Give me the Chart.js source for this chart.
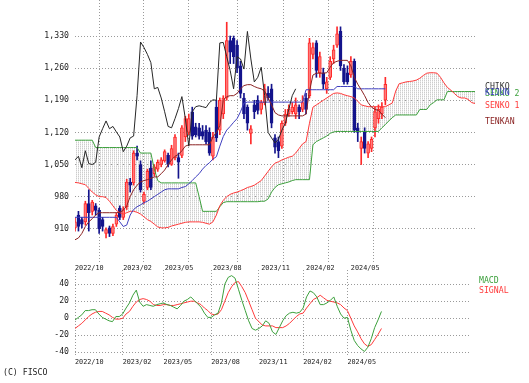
<!DOCTYPE html>
<html><head><meta charset="utf-8">
<script src="https://cdn.jsdelivr.net/npm/chart.js@4.4.1/dist/chart.umd.min.js"></script>
<style>
html,body{margin:0;padding:0;background:#fff;}
body{width:529px;height:383px;overflow:hidden;position:relative;font-family:"DejaVu Sans Mono",monospace;}
#main{position:absolute;left:0;top:0;}
#macd{position:absolute;left:0;top:270px;}
.lg{position:absolute;font-size:8.2px;line-height:1;white-space:nowrap;}
</style></head><body>
<canvas id="main" width="529" height="276"></canvas>
<canvas id="macd" width="529" height="100"></canvas>
<div class="lg" style="left:485px;top:82px;color:#333">CHIKO</div>
<div class="lg" style="left:485px;top:89px;color:#3ca03c">SENKO 2</div>
<div class="lg" style="left:485px;top:88px;color:#3f3fbf">KIJUN</div>
<div class="lg" style="left:485px;top:101px;color:#ff3a3a">SENKO 1</div>
<div class="lg" style="left:485px;top:117px;color:#8b2323">TENKAN</div>
<div class="lg" style="left:479px;top:276px;color:#3ca03c">MACD</div>
<div class="lg" style="left:479px;top:286px;color:#ff3a3a">SIGNAL</div>
<div class="lg" style="left:3px;top:368px;color:#222">(C) FISCO</div>
<script>
// ---- data (weekly, index 0 = first week shown) ----
const dateTickIdx = [0, 14, 26, 40, 54, 67, 80];
const dateTickLabels = ['2022/10','2023/02','2023/05','2023/08','2023/11','2024/02','2024/05'];
const priceTicks = [910, 980, 1050, 1120, 1190, 1260, 1330];
const macdTicks = [-40, -20, 0, 20, 40];

const open  = [912,940,930,925,965,948,960,950,930,900,912,900,920,955,935,958,1012,1010,1075,1050,970,1000,1042,1030,1040,1050,1058,1070,1050,1065,1065,1070,1110,1120,1165,1132,1130,1122,1125,1120,1068,1175,1125,1160,1195,1320,1325,1310,1265,1195,1175,1118,1180,1190,1170,1185,1205,1215,1108,1100,1090,1140,1160,1165,1160,1175,1170,1195,1200,1290,1315,1250,1250,1215,1240,1280,1310,1340,1260,1250,1245,1275,1130,1085,1120,1075,1085,1130,1150,1160,1190];
const high  = [935,948,935,970,995,972,965,955,935,912,916,920,945,960,958,1018,1020,1080,1090,1058,990,1040,1058,1050,1060,1065,1082,1075,1092,1115,1075,1135,1155,1160,1175,1140,1140,1135,1135,1130,1120,1190,1195,1200,1360,1330,1330,1320,1275,1205,1180,1135,1190,1200,1190,1225,1220,1225,1115,1110,1145,1170,1180,1185,1195,1180,1200,1205,1325,1315,1320,1295,1260,1240,1285,1310,1350,1350,1268,1265,1285,1280,1140,1110,1130,1100,1110,1175,1180,1185,1240];
const low   = [905,905,912,918,905,940,940,900,905,890,893,895,915,930,930,952,990,1005,1060,990,965,995,995,1025,1035,1045,1055,1045,1048,1060,1020,1065,1100,1115,1105,1110,1105,1105,1095,1070,1060,1100,1115,1150,1190,1270,1270,1250,1195,1150,1125,1095,1150,1160,1160,1180,1190,1130,1075,1065,1085,1135,1155,1160,1150,1150,1165,1160,1195,1280,1240,1240,1215,1205,1235,1270,1305,1255,1225,1225,1240,1120,1100,1050,1075,1065,1078,1110,1140,1150,1180];
const close = [925,915,920,965,945,968,950,910,915,908,900,915,940,935,952,1012,1005,1075,1068,995,985,1035,1000,1045,1055,1060,1078,1050,1085,1110,1055,1130,1150,1150,1112,1115,1112,1112,1100,1075,1110,1108,1190,1195,1320,1295,1285,1260,1205,1160,1140,1128,1165,1168,1185,1215,1195,1140,1088,1080,1140,1160,1170,1175,1180,1165,1185,1170,1315,1305,1255,1285,1225,1230,1275,1300,1335,1265,1230,1230,1275,1125,1120,1100,1085,1095,1105,1165,1170,1175,1225];

const tenkan = [886,890,900,915,925,932,940,945,945,945,945,945,945,946,950,960,980,995,1005,1012,1015,1017,1020,1023,1023,1030,1038,1050,1060,1068,1072,1080,1090,1093,1093,1093,1093,1093,1093,1093,1110,1120,1135,1190,1198,1200,1200,1205,1215,1222,1224,1224,1220,1217,1215,1210,1195,1180,1163,1158,1156,1156,1156,1156,1156,1156,1156,1160,1210,1245,1249,1249,1249,1250,1262,1272,1275,1277,1277,1277,1265,1240,1225,1213,1200,1185,1175,1170,1168,1160,1152];
const kijun = [935,935,935,935,935,935,935,935,935,935,935,935,935,925,915,918,940,952,958,962,967,970,975,980,985,990,995,997,997,997,997,1000,1002,1008,1015,1023,1030,1040,1048,1054,1062,1067,1090,1111,1125,1133,1142,1150,1165,1184,1186,1186,1186,1186,1186,1186,1186,1186,1186,1186,1186,1186,1186,1186,1186,1186,1186,1213,1213,1213,1213,1213,1213,1213,1213,1213,1220,1220,1220,1220,1220,1220,1215,1215,1215,1215,1215,1215,1215,1215,1215];
const senko1 = [1011,1010,1008,1006,998,990,984,980,980,978,970,960,950,945,942,945,948,948,946,942,936,930,926,920,914,912,912,913,916,918,920,922,924,925,925,925,925,924,922,920,925,940,960,972,980,985,988,990,993,996,1000,1002,1005,1010,1015,1025,1035,1045,1053,1056,1060,1063,1066,1068,1075,1085,1095,1100,1140,1175,1180,1185,1190,1195,1200,1205,1206,1205,1202,1200,1198,1195,1188,1180,1178,1176,1176,1176,1176,1176,1176,1180,1184,1210,1226,1228,1230,1231,1232,1234,1238,1244,1249,1250,1250,1249,1240,1228,1218,1212,1205,1198,1195,1195,1192,1185,1183];
const senko2 = [1103,1103,1103,1103,1103,1103,1087,1087,1087,1087,1087,1087,1087,1087,1087,1087,1087,1087,1087,1075,1075,1075,1075,1040,1015,1010,1010,1010,1010,1010,1010,1010,1010,1010,1010,1010,980,948,948,948,948,948,958,967,969,969,969,969,969,969,969,969,969,969,970,970,975,990,1000,1006,1008,1010,1012,1015,1017,1017,1017,1017,1017,1093,1100,1104,1108,1112,1118,1121,1122,1122,1122,1122,1122,1122,1122,1122,1122,1122,1122,1122,1122,1130,1137,1145,1152,1158,1158,1158,1158,1158,1158,1158,1170,1170,1170,1180,1185,1191,1191,1191,1209,1209,1209,1209,1209,1209,1209,1209,1209];
const chiko = [1060,1068,1043,1080,1052,1050,1055,1110,1128,1145,1128,1133,1121,1110,1078,1090,1108,1112,1200,1317,1305,1290,1272,1215,1218,1195,1165,1133,1130,1150,1172,1198,1150,1090,1165,1176,1178,1176,1174,1185,1191,1190,1315,1316,1285,1255,1215,1285,1280,1258,1340,1280,1230,1240,1262,1200,1120,1108,1097,1105,1125,1140,1170,1200,1215];

const macd = [-2,1,4,9,9,10,10,5,1,-1,-3,-4,2,2,5,12,18,27,33,19,14,16,15,14,16,17,18,16,15,13,11,15,20,22,25,21,17,13,6,1,1,4,6,18,40,48,50,47,34,21,9,-3,-12,-14,-12,-9,-3,-6,-16,-19,-11,-3,3,6,7,6,7,12,25,32,30,25,16,16,18,21,25,14,5,0,1,-14,-26,-32,-36,-39,-34,-24,-11,-2,8];
const signal = [-12,-9,-6,-2,2,5,7,8,8,6,4,1,-1,-1,0,5,8,14,19,22,23,22,20,16,15,15,16,16,15,15,16,17,18,19,20,20,18,16,12,9,5,4,5,10,20,30,37,42,43,37,30,20,10,0,-4,-8,-9,-9,-9,-11,-11,-11,-9,-6,-2,2,5,6,12,17,22,24,27,24,21,20,19,18,16,12,9,0,-9,-16,-24,-30,-33,-31,-25,-19,-12];

// ---- helpers ----
const pts = arr => arr.map((v, i) => ({x: i, y: v}));
const FONT = 'DejaVu Sans Mono';
const UP_FILL = '#ff7a7a', UP_LINE = '#ff2a2a', DN_FILL = '#14148c';
const isUp = close.map((c, i) => c >= open[i]);

const hatch = (() => {
  const c = document.createElement('canvas'); c.width = 2; c.height = 2;
  const g = c.getContext('2d');
  g.fillStyle = '#cdcdcd'; g.fillRect(0, 0, 1, 1);
  g.fillStyle = '#e8e8e8'; g.fillRect(0, 1, 1, 1);
  return g.createPattern(c, 'repeat');
})();

const lineDs = (data, color, extra) => Object.assign({
  type: 'line', data: pts(data), borderColor: color, borderWidth: 1,
  pointRadius: 0, tension: 0, fill: false
}, extra || {});

const gridCommon = {color: '#9a9a9a', lineWidth: 1, drawTicks: false};
const borderCommon = {display: false, dash: [1, 2]};

function xScale(max) {
  return {
    type: 'linear', min: 0, max: max, offset: false,
    afterBuildTicks: s => { s.ticks = dateTickIdx.map(v => ({value: v})); },
    afterFit: s => { s.height = 14; s.paddingLeft = 0; s.paddingRight = 0; },
    ticks: {
      autoSkip: false, maxRotation: 0, minRotation: 0, align: 'start', padding: 2,
      color: '#222', font: {family: FONT, size: 6.8},
      callback: v => dateTickLabels[dateTickIdx.indexOf(v)]
    },
    grid: gridCommon, border: borderCommon
  };
}

Chart.defaults.animation = false;
Chart.defaults.events = [];

new Chart(document.getElementById('main'), {
  type: 'line',
  data: {
    datasets: [
      lineDs(chiko, '#262626'),
      lineDs(tenkan, '#8b2323'),
      lineDs(kijun, '#3f3fbf'),
      lineDs(senko1, '#ff3a3a', {fill: '+1', backgroundColor: hatch}),
      lineDs(senko2, '#3ca03c'),
      {
        type: 'bar', grouped: false, barThickness: 3, borderWidth: 1, borderSkipped: false,
        data: open.map((o, i) => ({x: i, y: [o, close[i]]})),
        backgroundColor: isUp.map(u => u ? UP_FILL : DN_FILL),
        borderColor: isUp.map(u => u ? UP_LINE : DN_FILL)
      },
      {
        type: 'bar', grouped: false, barThickness: 1, borderWidth: 0,
        data: low.map((l, i) => ({x: i, y: [l, high[i]]})),
        backgroundColor: isUp.map(u => u ? UP_LINE : DN_FILL)
      }
    ]
  },
  options: {
    responsive: false, animation: false,
    layout: {padding: {left: 0, right: 54, top: 0, bottom: 0}},
    plugins: {legend: {display: false}, tooltip: {enabled: false}, filler: {drawTime: 'beforeDatasetsDraw'}},
    scales: {
      x: xScale(116),
      y: {
        type: 'linear', min: 837.6, max: 1408.5,
        afterBuildTicks: s => { s.ticks = priceTicks.map(v => ({value: v})); },
        afterFit: s => { s.width = 75; s.paddingTop = 0; s.paddingBottom = 0; },
        ticks: {padding: 6, color: '#222', font: {family: FONT, size: 8.2},
          callback: v => v.toLocaleString('en-US')},
        grid: gridCommon, border: borderCommon
      }
    }
  }
});

new Chart(document.getElementById('macd'), {
  type: 'line',
  data: {
    datasets: [
      lineDs(macd, '#3ca03c'),
      lineDs(signal, '#ff3a3a')
    ]
  },
  options: {
    responsive: false, animation: false,
    layout: {padding: {left: 0, right: 59, top: 0, bottom: 0}},
    plugins: {legend: {display: false}, tooltip: {enabled: false}},
    scales: {
      x: xScale(116),
      y: {
        type: 'linear', min: -44.3, max: 56.6,
        afterBuildTicks: s => { s.ticks = macdTicks.map(v => ({value: v})); },
        afterFit: s => { s.width = 75; s.paddingTop = 0; s.paddingBottom = 0; },
        ticks: {padding: 6, color: '#222', font: {family: FONT, size: 8.2}},
        grid: gridCommon, border: borderCommon
      }
    }
  }
});
</script>
</body></html>
